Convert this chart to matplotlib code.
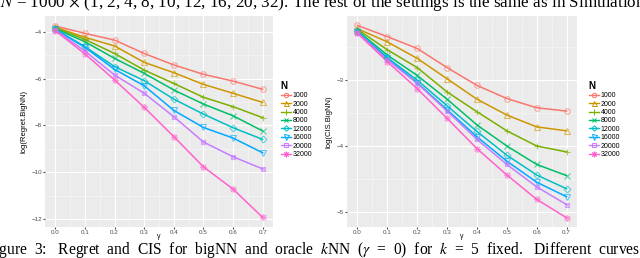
import matplotlib.pyplot as plt
from matplotlib.lines import Line2D
from matplotlib.ticker import MultipleLocator

plt.rcParams['font.family'] = ['Liberation Sans', 'DejaVu Sans']
plt.rcParams['mathtext.fontset'] = 'stix'

gamma = [0.0, 0.1, 0.2, 0.3, 0.4, 0.5, 0.6, 0.7]
n_labels = ['1000', '2000', '4000', '8000', '12000', '16000', '20000', '32000']

regret = {
    '1000':  [-3.76, -4.07, -4.36, -4.93, -5.42, -5.82, -6.11, -6.46],
    '2000':  [-3.81, -4.24, -4.61, -5.31, -5.75, -6.25, -6.63, -7.02],
    '4000':  [-3.84, -4.33, -4.93, -5.64, -6.21, -6.80, -7.20, -7.67],
    '8000':  [-3.87, -4.43, -5.14, -5.78, -6.49, -7.09, -7.59, -8.24],
    '12000': [-3.90, -4.64, -5.49, -6.09, -6.88, -7.52, -8.10, -8.60],
    '16000': [-3.90, -4.67, -5.61, -6.31, -7.36, -8.09, -8.54, -9.17],
    '20000': [-3.93, -4.83, -5.85, -6.63, -7.63, -8.71, -9.34, -9.86],
    '32000': [-3.96, -4.95, -6.06, -7.23, -8.48, -9.77, -10.72, -11.93],
}
cis = {
    '1000':  [-2.17, -2.34, -2.52, -2.81, -3.08, -3.28, -3.42, -3.47],
    '2000':  [-2.22, -2.42, -2.67, -2.98, -3.29, -3.53, -3.71, -3.77],
    '4000':  [-2.23, -2.54, -2.81, -3.18, -3.48, -3.77, -4.00, -4.09],
    '8000':  [-2.25, -2.62, -2.93, -3.29, -3.68, -4.00, -4.28, -4.45],
    '12000': [-2.26, -2.66, -3.00, -3.39, -3.78, -4.14, -4.44, -4.65],
    '16000': [-2.27, -2.67, -3.04, -3.45, -3.86, -4.23, -4.55, -4.77],
    '20000': [-2.28, -2.69, -3.05, -3.47, -3.90, -4.28, -4.62, -4.89],
    '32000': [-2.29, -2.72, -3.13, -3.58, -4.04, -4.44, -4.81, -5.09],
}

colors = ['#F8766D', '#CD9600', '#7CAE00', '#00BE67', '#00BFC4', '#00A9FF', '#C77CFF', '#FF61CC']
markers = ['o', '^', '+', 'x', 'D', 'v', 's', (8, 2, 0)]
msizes = [4, 4.5, 5, 4, 3.5, 4.5, 3.5, 5]

top_text = r'$N$ = 1000 $\times$ (1, 2, 4, 8, 10, 12, 16, 20, 32). The rest of the settings is the same as in Simulation'
caption = r'Figure  3:   Regret  and  CIS  for  bigNN  and  oracle  $k$NN  ($\gamma$  =  0)  for  $k$  =  5  fixed.   Different  curves'


def draw_panel(ax, data, ylim, ymajor, yminor, ylabel):
    ax.set_facecolor('#EBEBEB')
    for i, n in enumerate(n_labels):
        ax.plot(gamma, data[n], color=colors[i], lw=1.1, zorder=3)
        ax.plot(gamma, data[n], linestyle='none', marker=markers[i], ms=msizes[i],
                mfc='none', mec=colors[i], mew=0.8, alpha=0.6, zorder=4)
        if markers[i] == 's':
            ax.plot(gamma, data[n], linestyle='none', marker='x', ms=3.5,
                    mec=colors[i], mew=0.8, alpha=0.6, zorder=4)
    ax.set_xlim(-0.035, 0.735)
    ax.set_ylim(*ylim)
    ax.set_xticks(gamma)
    ax.set_xticklabels([f'{g:.1f}' for g in gamma])
    ax.xaxis.set_minor_locator(MultipleLocator(0.05))
    ax.yaxis.set_major_locator(MultipleLocator(ymajor))
    ax.yaxis.set_minor_locator(MultipleLocator(yminor))
    ax.yaxis.set_major_formatter(plt.FuncFormatter(lambda v, p: f'\u2212{abs(round(v))}'))
    ax.grid(which='major', color='white', lw=0.8)
    ax.grid(which='minor', color='white', lw=0.4, alpha=0.7)
    ax.set_axisbelow(True)
    for s in ax.spines.values():
        s.set_visible(False)
    ax.tick_params(which='both', length=1.5, color='#4D4D4D', labelsize=4.5,
                   labelcolor='#4D4D4D', pad=0.6)
    ax.tick_params(which='minor', length=0)
    ax.set_xlabel('\u03b3', fontsize=5, labelpad=-1.5)
    ax.set_ylabel(ylabel, fontsize=5.5, labelpad=3)


fig = plt.figure(figsize=(6.4, 2.58), dpi=100)

ax1 = fig.add_axes([45 / 640, 31 / 258, 228 / 640, 211 / 258])
draw_panel(ax1, regret, (-12.34, -3.33), 2, 1, 'log(Regret.BigNN)')

ax2 = fig.add_axes([347 / 640, 31 / 258, 230 / 640, 211 / 258])
draw_panel(ax2, cis, (-5.23, -2.027), 1, 0.5, 'log(CIS.BigNN)')

handles = []
for i in range(len(n_labels)):
    handles.append(Line2D([0], [0], color=colors[i], lw=1.0, marker=markers[i],
                          ms=msizes[i] * 0.8, mfc='none', mec=colors[i], mew=0.7))

for xpos in [276 / 640, 584 / 640]:
    leg = fig.legend(handles, n_labels, title='N', loc='upper left',
                     bbox_to_anchor=(xpos, 1 - 76 / 258), frameon=False,
                     fontsize=5, title_fontsize=7, handlelength=1.4,
                     handletextpad=0.3, labelspacing=0.2, borderpad=0.2,
                     alignment='left')
    leg.get_title().set_fontweight('bold')

serif = ['Liberation Serif', 'DejaVu Serif']
fig.text(0.0, 1 - 7 / 258, top_text, fontsize=12.3, family=serif,
         ha='left', va='baseline')
fig.text(-14 / 640, 4.5 / 258, caption, fontsize=11.2, family=serif,
         ha='left', va='baseline')

fig.savefig('out.png', dpi=100)
